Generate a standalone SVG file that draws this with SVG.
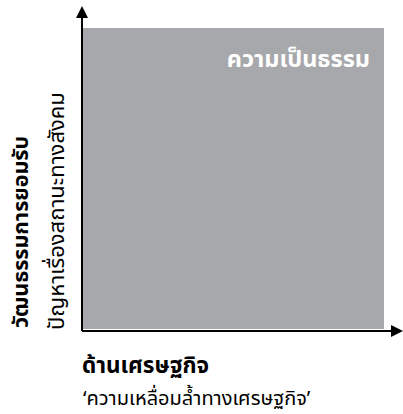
<svg xmlns="http://www.w3.org/2000/svg" width="403" height="414" viewBox="0 0 403 414">
<style>
.t{font-family:"Noto Sans","Noto Sans Thai","DejaVu Sans",sans-serif;}
.b{font-weight:bold;}
</style>
<defs>
<marker id="ah" markerWidth="12" markerHeight="12" refX="10" refY="6" orient="auto" markerUnits="userSpaceOnUse">
<path d="M0,0 L12,6 L0,12 Z" fill="#000"/>
</marker>
</defs>
<rect width="403" height="414" fill="#fff"/>
<g id="region">
<rect x="83" y="28" width="301" height="301" fill="#A7A8AB"/>
<text class="t b" x="370" y="67" font-size="23.5" fill="#fff" text-anchor="end">ความเป็นธรรม</text>
</g>
<g id="axes">
<line x1="82" y1="331" x2="82" y2="8" stroke="#000" stroke-width="2" marker-end="url(#ah)"/>
<line x1="82" y1="331" x2="401" y2="331" stroke="#000" stroke-width="2" marker-end="url(#ah)"/>
</g>
<g id="y-label">
<text class="t b" transform="translate(28,328) rotate(-90)" font-size="21.5" fill="#000">วัฒนธรรมการยอมรับ</text>
<text class="t" transform="translate(64,330) rotate(-90)" font-size="22" fill="#000">ปัญหาเรื่องสถานะทางสังคม</text>
</g>
<g id="x-label">
<text class="t b" x="82" y="373" font-size="22.5" fill="#000">ด้านเศรษฐกิจ</text>
<text class="t" x="83" y="405" font-size="20" fill="#000">‘ความเหลื่อมล้ำทางเศรษฐกิจ’</text>
</g>
</svg>
